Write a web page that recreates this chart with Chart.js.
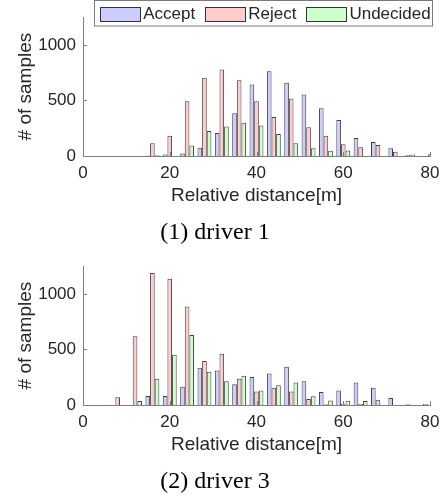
<!DOCTYPE html>
<html>
<head>
<meta charset="utf-8">
<script src="https://cdn.jsdelivr.net/npm/chart.js@4.4.1/dist/chart.umd.min.js"></script>
<style>
    html, body { margin: 0; padding: 0; background: #fff; }
    #wrap { position: relative; width: 448px; height: 498px; overflow: hidden; }
    canvas { position: absolute; left: 0; }
    #driver1Chart { top: 0; }
    #driver3Chart { top: 249px; }
</style>
</head>
<body>
<div id="wrap">
    <canvas id="driver1Chart" width="448" height="249"></canvas>
    <canvas id="driver3Chart" width="448" height="249"></canvas>
</div>
<script>
// bin centres of the histogram (m)
const binCenters = [0, 4, 8, 12, 16, 20, 24, 28, 32, 36, 40, 44, 48, 52, 56, 60, 64, 68, 72, 76, 80];

const driver1Accept = [0, 0, 0, 0, 5, 14, 22, 75, 207, 386, 643, 763, 660, 553, 430, 324, 163, 126, 70, 9, 0];
const driver1Reject = [0, 0, 0, 0, 115, 182, 492, 704, 780, 682, 492, 352, 517, 260, 182, 106, 78, 98, 39, 14, 15];
const driver1Undecided = [0, 0, 0, 0, 6, 3, 95, 226, 266, 299, 274, 199, 115, 70, 48, 49, 0, 0, 0, 0, 0];

const driver3Accept = [0, 0, 0, 0, 81, 81, 164, 336, 311, 186, 253, 283, 344, 214, 116, 131, 203, 156, 64, 6, 8];
const driver3Reject = [0, 0, 69, 620, 1189, 1136, 886, 397, 461, 236, 122, 155, 121, 55, 7, 8, 9, 47, 0, 0, 0];
const driver3Undecided = [0, 0, 0, 36, 236, 453, 631, 300, 214, 264, 131, 177, 203, 78, 40, 38, 37, 0, 0, 0, 0];

const seriesNames = ["Accept", "Reject", "Undecided"];
const seriesFills = ["#ccccff", "#ffcccc", "#ccffcc"];
const xTicks = [0, 20, 40, 60, 80];
const yTicks = [0, 500, 1000];
const yMax = 1250;

const sansFont = "'Liberation Sans', Arial, sans-serif";
const textColor = "#262626";
const axisColor = "#808080";

// MATLAB style tick marks pointing into the axes
const innerTicks = {
    id: "innerTicks",
    afterDatasetsDraw(chart) {
        const { ctx, chartArea, scales } = chart;
        ctx.save();
        ctx.strokeStyle = axisColor;
        ctx.lineWidth = 1;
        ctx.beginPath();
        scales.y.ticks.forEach((t) => {
            const y = Math.round(scales.y.getPixelForValue(t.value)) + 0.5;
            ctx.moveTo(chartArea.left, y);
            ctx.lineTo(chartArea.left + 4, y);
        });
        scales.x.ticks.forEach((t) => {
            const x = Math.round(scales.x.getPixelForValue(t.value)) + 0.5;
            ctx.moveTo(x, chartArea.bottom);
            ctx.lineTo(x, chartArea.bottom - 4);
        });
        ctx.stroke();
        ctx.restore();
    },
};

// boxed legend in the top right corner, overlapping the axes
const boxLegend = {
    id: "boxLegend",
    afterDraw(chart, args, opts) {
        if (!opts.display) {
            return;
        }
        const { ctx, chartArea } = chart;
        const swatchW = 40;
        const swatchH = 14;
        const textGap = 3;
        const itemGap = 10;
        ctx.save();
        ctx.font = `17px ${sansFont}`;
        const items = chart.data.datasets.map((ds) => ({
            label: ds.label,
            fill: ds.backgroundColor,
            width: ctx.measureText(ds.label).width,
        }));
        const total = items.reduce((sum, it) => sum + swatchW + textGap + it.width, 0) + itemGap * (items.length - 1);
        const right = chartArea.right + 0.7;
        let x = right - total;
        const boxLeft = Math.round(x - 6) + 0.5;
        const boxRight = Math.round(right + 1) + 0.5;
        ctx.fillStyle = "#fff";
        ctx.fillRect(boxLeft, 0.5, boxRight - boxLeft, 25.5);
        ctx.strokeStyle = "#7a7a7a";
        ctx.lineWidth = 1;
        ctx.strokeRect(boxLeft, 0.5, boxRight - boxLeft, 25.5);
        const midY = 13.7;
        items.forEach((it) => {
            const sx = Math.round(x) + 0.5;
            ctx.fillStyle = it.fill;
            ctx.fillRect(sx, Math.round(midY - swatchH / 2) + 0.5, swatchW, swatchH);
            ctx.strokeStyle = "#333";
            ctx.strokeRect(sx, Math.round(midY - swatchH / 2) + 0.5, swatchW, swatchH);
            ctx.fillStyle = textColor;
            ctx.textBaseline = "middle";
            ctx.textAlign = "left";
            ctx.fillText(it.label, x + swatchW + textGap, midY + 0.5);
            x += swatchW + textGap + it.width + itemGap;
        });
        ctx.restore();
    },
};

function makeDataset(name, fill, values) {
    return {
        label: name,
        data: binCenters.map((x, i) => ({ x, y: values[i] })),
        backgroundColor: fill,
        borderColor: "rgba(0, 0, 0, 0.75)",
        borderWidth: 1,
        categoryPercentage: 0.8,
        barPercentage: 1.0,
    };
}

function makeChart(canvasId, titleText, accept, reject, undecided, showLegend) {
    const seriesValues = [accept, reject, undecided];
    return new Chart(document.getElementById(canvasId), {
        type: "bar",
        data: {
            datasets: seriesNames.map((name, i) => makeDataset(name, seriesFills[i], seriesValues[i])),
        },
        plugins: [innerTicks, boxLegend],
        options: {
            responsive: false,
            animation: false,
            layout: {
                padding: { top: 7, right: 18, bottom: 0, left: 0 },
            },
            plugins: {
                legend: { display: false },
                tooltip: { enabled: false },
                boxLegend: { display: showLegend },
                title: {
                    display: true,
                    position: "bottom",
                    text: titleText,
                    color: "#000",
                    font: { family: "'Liberation Serif', 'Times New Roman', serif", size: 24, weight: "normal" },
                    padding: { top: 13.6, bottom: 1.6 },
                },
            },
            scales: {
                x: {
                    type: "linear",
                    min: 0,
                    max: 80,
                    offset: false,
                    afterBuildTicks: (scale) => {
                        scale.ticks = xTicks.map((v) => ({ value: v }));
                    },
                    afterFit: (scale) => {
                        scale.height = 49;
                    },
                    grid: { display: false, drawTicks: false, offset: false },
                    border: { display: true, color: axisColor, width: 1 },
                    ticks: {
                        padding: 7,
                        color: textColor,
                        font: { family: sansFont, size: 17 },
                        maxRotation: 0,
                        callback: (value) => String(value),
                    },
                    title: {
                        display: true,
                        text: "Relative distance[m]",
                        color: textColor,
                        font: { family: sansFont, size: 19, lineHeight: 1 },
                        padding: { top: 0, bottom: 0 },
                    },
                },
                y: {
                    min: 0,
                    max: yMax,
                    afterBuildTicks: (scale) => {
                        scale.ticks = yTicks.map((v) => ({ value: v }));
                    },
                    afterFit: (scale) => {
                        scale.width = 83;
                    },
                    grid: { display: false, drawTicks: false },
                    border: { display: true, color: axisColor, width: 1 },
                    ticks: {
                        padding: 7,
                        color: textColor,
                        font: { family: sansFont, size: 17 },
                        callback: (value) => String(value),
                    },
                    title: {
                        display: true,
                        text: "# of samples",
                        color: textColor,
                        font: { family: sansFont, size: 19, lineHeight: 1 },
                        padding: { top: 16.5, bottom: 0 },
                    },
                },
            },
        },
    });
}

makeChart("driver1Chart", "(1) driver 1", driver1Accept, driver1Reject, driver1Undecided, true);
makeChart("driver3Chart", "(2) driver 3", driver3Accept, driver3Reject, driver3Undecided, false);
</script>
</body>
</html>
